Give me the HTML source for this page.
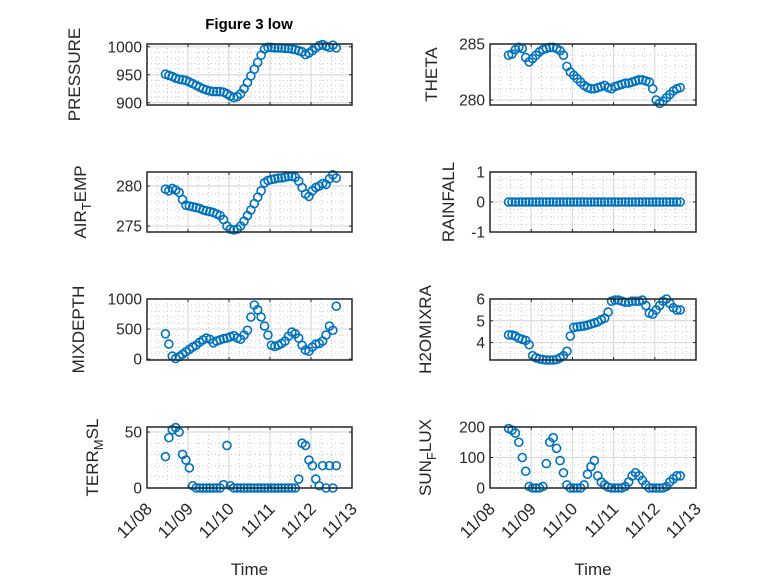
<!DOCTYPE html>
<html><head><meta charset="utf-8"><style>
html,body{margin:0;padding:0;background:#fff;}
svg{display:block;font-family:"Liberation Sans",Arial,sans-serif;}
</style></head><body>
<svg id="fig" width="778" height="583" viewBox="0 0 778 583">
<rect width="778" height="583" fill="#fff"/>
<text x="249" y="29" font-size="15" font-weight="bold" text-anchor="middle" fill="#000">Figure 3 low</text>
</svg>
<script>
const xTickLabels = ["11/08","11/09","11/10","11/11","11/12","11/13"];
const pressure = [951,949,947,944,942,941,940,937,934,931,928,925,923,921,920,920,920,919,916,912,909,911,916,925,936,948,960,972,985,996,999,999,998,998,998,997,997,996,995,993,991,986,989,993,998,1002,1004,1001,999,1003,998];
const theta = [284.0,284.1,284.5,284.7,284.6,283.8,283.4,283.7,284.0,284.3,284.5,284.6,284.7,284.7,284.6,284.4,284.0,283.0,282.5,282.2,281.9,281.6,281.3,281.1,281.0,281.0,281.1,281.2,281.3,281.1,281.0,281.2,281.3,281.4,281.5,281.5,281.6,281.7,281.8,281.8,281.7,281.6,281.0,280.0,279.7,279.9,280.2,280.5,280.8,281.0,281.1];
const airTemp = [279.6,279.4,279.7,279.5,279.2,278.3,277.6,277.5,277.4,277.3,277.2,277,276.9,276.8,276.7,276.5,276.3,275.8,275,274.6,274.5,274.6,275,275.6,276.3,277,277.8,278.6,279.4,280.4,280.7,280.8,280.9,281,281,281.1,281.2,281.2,281.1,280.6,279.8,279,278.7,279.4,279.8,280,280.3,280.2,280.9,281.4,281];
const rainfall = [0,0,0,0,0,0,0,0,0,0,0,0,0,0,0,0,0,0,0,0,0,0,0,0,0,0,0,0,0,0,0,0,0,0,0,0,0,0,0,0,0,0,0,0,0,0,0,0,0,0,0];
const mixDepth = [420,250,50,10,40,80,120,160,200,230,280,320,350,330,270,300,320,340,350,370,390,350,330,400,480,700,900,820,700,550,400,230,210,230,260,300,380,450,420,350,230,150,130,200,250,260,300,400,550,480,880];
const h2oMix = [4.35,4.35,4.3,4.2,4.15,4.1,3.9,3.4,3.3,3.25,3.22,3.2,3.2,3.2,3.22,3.3,3.4,3.6,4.3,4.7,4.72,4.74,4.76,4.8,4.85,4.9,4.95,5.05,5.12,5.4,5.9,5.95,5.95,5.9,5.85,5.85,5.9,5.9,5.9,5.95,5.7,5.35,5.3,5.5,5.7,5.9,6.0,5.8,5.6,5.5,5.5];
const terrMsl = [28,45,52,54,50,30,25,18,2,0,0,0,0,0,0,0,0,3,38,2,0,0,0,0,0,0,0,0,0,0,0,0,0,0,0,0,0,0,0,8,40,38,25,20,8,2,20,0,20,0,20];
const sunFlux = [195,190,180,150,100,55,5,0,0,0,5,80,150,165,130,90,50,10,0,0,0,0,10,45,70,90,40,20,10,3,0,0,0,0,5,20,40,50,40,25,10,0,0,0,0,0,5,20,30,40,40];
const tStart = 0.45, tStep = 1/12;

const NS='http://www.w3.org/2000/svg';
const svg=document.getElementById('fig');
function mk(tag,attrs,parent){const e=document.createElementNS(NS,tag);for(const k in attrs)e.setAttribute(k,attrs[k]);(parent||svg).appendChild(e);return e;}

const panels=[
 {key:'pressure',data:pressure,x0:147,x1:352,y0:44,y1:105,ymin:896,ymax:1005,ticks:[900,950,1000],minor:10,label:['PRESSURE'],lx:80,bottom:false},
 {key:'theta',data:theta,x0:490,x1:696,y0:44,y1:105,ymin:279.55,ymax:285,ticks:[280,285],minor:1,label:['THETA'],lx:437,bottom:false},
 {key:'air-temp',data:airTemp,x0:147,x1:352,y0:172,y1:232,ymin:274.25,ymax:281.75,ticks:[275,280],minor:1,label:['AIR','T','EMP'],lx:86,bottom:false},
 {key:'rainfall',data:rainfall,x0:490,x1:696,y0:172,y1:232,ymin:-1,ymax:1,ticks:[-1,0,1],minor:0.25,label:['RAINFALL'],lx:454,bottom:false},
 {key:'mix-depth',data:mixDepth,x0:147,x1:352,y0:299,y1:360,ymin:-15,ymax:1000,ticks:[0,500,1000],minor:100,label:['MIXDEPTH'],lx:84,bottom:false},
 {key:'h2o-mix',data:h2oMix,x0:490,x1:696,y0:299,y1:360,ymin:3.2,ymax:6,ticks:[4,5,6],minor:0.25,label:['H2OMIXRA'],lx:431,bottom:false},
 {key:'terr-msl',data:terrMsl,x0:147,x1:352,y0:427,y1:488,ymin:0,ymax:54.5,ticks:[0,50],minor:10,label:['TERR','M','SL'],lx:98,bottom:true},
 {key:'sun-flux',data:sunFlux,x0:490,x1:696,y0:427,y1:488,ymin:0,ymax:200,ticks:[0,100,200],minor:25,label:['SUN','F','LUX'],lx:431,bottom:true}
];

panels.forEach(p=>{
 const g=mk('g',{});
 
 
 const xs=t=>p.x0+(t/5)*(p.x1-p.x0);
 const ys=v=>p.y1-(v-p.ymin)/(p.ymax-p.ymin)*(p.y1-p.y0);
 for(let t=0.25;t<5;t+=0.25){ if(Math.abs(t-Math.round(t))<1e-6)continue;
  mk('line',{x1:xs(t),x2:xs(t),y1:p.y0,y2:p.y1,stroke:'#c8c8c8','stroke-width':1,'stroke-dasharray':'1 3'},g);}
 const m0=Math.ceil(p.ymin/p.minor)*p.minor;
 for(let v=m0;v<=p.ymax+1e-9;v+=p.minor){ if(p.ticks.some(tk=>Math.abs(tk-v)<1e-6))continue;
  mk('line',{x1:p.x0,x2:p.x1,y1:ys(v),y2:ys(v),stroke:'#c8c8c8','stroke-width':1,'stroke-dasharray':'1 3'},g);}
 for(let d=1;d<5;d++) mk('line',{x1:xs(d),x2:xs(d),y1:p.y0,y2:p.y1,stroke:'#dcdcdc','stroke-width':1.2},g);
 p.ticks.forEach(v=>{ const y=ys(v);
  mk('line',{x1:p.x0,x2:p.x1,y1:y,y2:y,stroke:'#dcdcdc','stroke-width':1.2},g);
  mk('line',{x1:p.x0,x2:p.x0+3,y1:y,y2:y,stroke:'#262626','stroke-width':1},g);
  mk('line',{x1:p.x1-3,x2:p.x1,y1:y,y2:y,stroke:'#262626','stroke-width':1},g);
  const tl=mk('text',{x:p.x0-5,y:y+5.5,'font-size':15.5,'text-anchor':'end',fill:'#262626'},g);
  tl.textContent=String(v);
  
  
 });
 for(let d=0;d<=5;d++){ const x=xs(d);
  mk('line',{x1:x,x2:x,y1:p.y1,y2:p.y1-3,stroke:'#262626','stroke-width':1},g);
  mk('line',{x1:x,x2:x,y1:p.y0,y2:p.y0+3,stroke:'#262626','stroke-width':1},g);
  if(p.bottom){
   const xt=mk('text',{x:0,y:0,'font-size':17,'text-anchor':'end',fill:'#262626',transform:`translate(${x+6},${p.y1+22}) rotate(-45)`},g);
   xt.textContent=xTickLabels[d];
   
   
  }
 }
 const sg=mk('g',{fill:'none',stroke:'#0072BD','stroke-width':1.6},g);
 
 
 p.data.forEach((v,i)=>{
  const c=mk('circle',{cx:xs(tStart+i*tStep),cy:ys(v),r:4},sg);
  
  
 });
 mk('rect',{x:p.x0,y:p.y0,width:p.x1-p.x0,height:p.y1-p.y0,fill:'none',stroke:'#262626','stroke-width':1.5},g);
 const cy=(p.y0+p.y1)/2;
 const yl=mk('text',{x:0,y:0,'font-size':17,'text-anchor':'middle',fill:'#262626',transform:`translate(${p.lx},${cy}) rotate(-90)`},g);
 
 
 if(p.label.length===1){yl.textContent=p.label[0];}
 else{
  const a=mk('tspan',{},yl);a.textContent=p.label[0];
  const b=mk('tspan',{dy:5,'font-size':13},yl);b.textContent=p.label[1];
  const c=mk('tspan',{dy:-5},yl);c.textContent=p.label[2];
 }
 if(p.bottom){
  const xl=mk('text',{x:(p.x0+p.x1)/2,y:575,'font-size':17,'text-anchor':'middle',fill:'#262626'},g);
  xl.textContent='Time';
  
  
 }
});
</script>
</body></html>
